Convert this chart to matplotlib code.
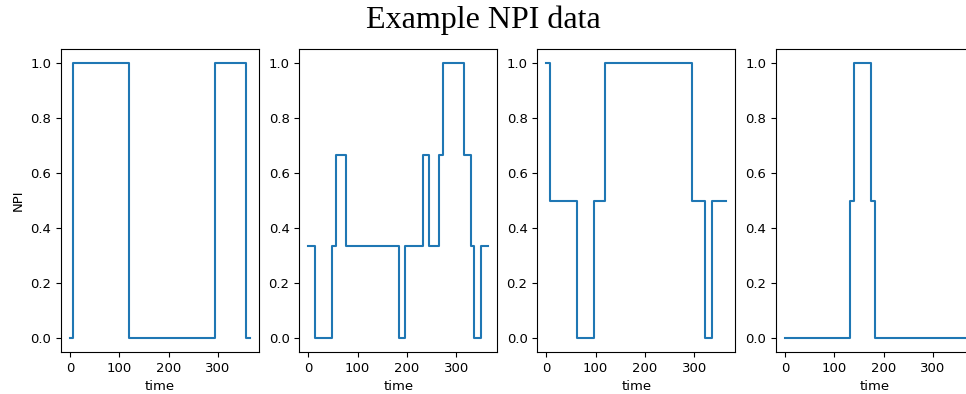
import matplotlib
matplotlib.use("Agg")
import matplotlib.pyplot as plt
import numpy as np

# Change-point times (days) and NPI levels for each example
times_1 = [0, 7, 119, 295, 357, 365]
npi_1 = [0, 1, 0, 1, 0, 0]

times_2 = [0, 13, 49, 56, 77, 183, 196, 233, 245, 265, 273, 315, 330, 336, 350, 365]
npi_2 = [1/3, 0, 1/3, 2/3, 1/3, 0, 1/3, 2/3, 1/3, 2/3, 1, 2/3, 1/3, 0, 1/3, 1/3]

times_3 = [0, 7, 62, 97, 119, 295, 322, 337, 365]
npi_3 = [1, 0.5, 0, 0.5, 1, 0.5, 0, 0.5, 0.5]

times_4 = [0, 132, 140, 175, 182, 365]
npi_4 = [0, 0.5, 1, 0.5, 0, 0]

series = [(times_1, npi_1), (times_2, npi_2), (times_3, npi_3), (times_4, npi_4)]

W, H = 966, 394
fig = plt.figure(figsize=(W / 100, H / 100), dpi=100)

lefts = [61, 299.3, 537.3, 776]
ax_w = 198
top, bottom = 49, 352

fs = 9.5
for i, (t, v) in enumerate(series):
    ax = fig.add_axes([lefts[i] / W, 1 - bottom / H, ax_w / W, (bottom - top) / H])
    ax.step(t, v, where='post', color='#1f77b4', linewidth=1.5)
    ax.set_xticks([0, 100, 200, 300])
    ax.set_yticks([0.0, 0.2, 0.4, 0.6, 0.8, 1.0])
    ax.tick_params(labelsize=fs)
    ax.set_xlabel('time', fontsize=fs)
    if i == 0:
        ax.set_ylabel('NPI', fontsize=fs)

fig.text(0.5, 1 - 20 / H, 'Example NPI data', ha='center', va='center',
         fontsize=23, family='Liberation Serif')

fig.savefig('out.png', dpi=100)
